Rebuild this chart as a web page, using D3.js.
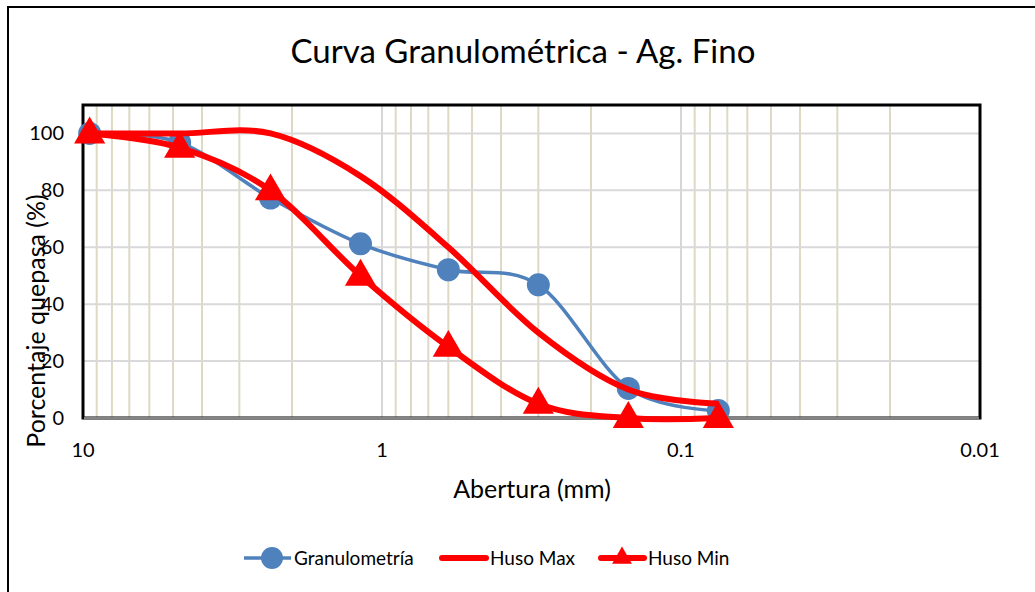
<!DOCTYPE html>
<html>
<head>
	<meta charset="utf-8">
	<script src="https://d3js.org/d3.v7.min.js"></script>
	<style>
	body{ margin:0; background:#fff; font-family: Lato, "Open Sans", sans-serif; }
	</style>
</head>
<body>
<svg id="chart" width="1035" height="592"></svg>
<script>
// sieve openings (mm) and passing percentages
var aberturas = [9.5, 4.75, 2.36, 1.18, 0.6, 0.3, 0.15, 0.075];
var granulometria = [100, 96.8, 77.3, 61.2, 52.1, 46.8, 10.4, 2.6];
var husoMax = [100, 100, 100, 85, 60, 30, 10, 5];
var husoMin = [100, 95, 80, 50, 25, 5, 0, 0];
var xTicks = [10, 1, 0.1, 0.01];
var yTicks = [0, 20, 40, 60, 80, 100];

(function(){
	var svg = d3.select("#chart");
	var pLeft = 83, pRight = 980, pTop = 105, pBottom = 418;

	var x = d3.scaleLog().domain([10, 0.01]).range([pLeft, pRight]);
	var y = d3.scaleLinear().domain([0, 110]).range([pBottom, pTop]);

	// outer chart border
	svg.append("rect")
		.attr("x", 8).attr("y", 7).attr("width", 1040).attr("height", 600)
		.attr("fill", "none").attr("stroke", "#000").attr("stroke-width", 2);

	// title
	svg.append("text")
		.attr("x", 523).attr("y", 63)
		.attr("text-anchor", "middle")
		.attr("font-size", "33px")
		.attr("fill", "#000")
		.text("Curva Granulométrica - Ag. Fino");

	// minor vertical grid lines (log)
	var minor = [];
	[1, 0.1, 0.01].forEach(function(d){
		for (var k = 2; k <= 9; k++) minor.push(d * k);
	});
	svg.append("g").selectAll("line").data(minor).enter().append("line")
		.attr("x1", function(d){ return x(d); }).attr("x2", function(d){ return x(d); })
		.attr("y1", pTop).attr("y2", pBottom)
		.attr("stroke", "#ddd9c4").attr("stroke-width", 2);

	// major vertical grid lines
	svg.append("g").selectAll("line").data([1, 0.1]).enter().append("line")
		.attr("x1", function(d){ return x(d); }).attr("x2", function(d){ return x(d); })
		.attr("y1", pTop).attr("y2", pBottom)
		.attr("stroke", "#c8c8c8").attr("stroke-width", 1.5);

	// horizontal grid lines
	svg.append("g").selectAll("line").data(yTicks.slice(1)).enter().append("line")
		.attr("x1", pLeft).attr("x2", pRight)
		.attr("y1", function(d){ return y(d); }).attr("y2", function(d){ return y(d); })
		.attr("stroke", "#d9d9d9").attr("stroke-width", 2);

	// plot border
	svg.append("rect")
		.attr("x", pLeft).attr("y", pTop).attr("width", pRight - pLeft).attr("height", pBottom - pTop)
		.attr("fill", "none").attr("stroke", "#000").attr("stroke-width", 3);
	svg.append("line")
		.attr("x1", pLeft + 1).attr("x2", pRight - 1).attr("y1", pBottom).attr("y2", pBottom)
		.attr("stroke", "#b0b0b0").attr("stroke-width", 1.5);

	// tick labels
	svg.append("g").selectAll("text").data(yTicks).enter().append("text")
		.attr("x", 64).attr("y", function(d){ return y(d) + 7; })
		.attr("text-anchor", "end").attr("font-size", "20px").attr("fill", "#000")
		.text(function(d){ return d; });
	svg.append("g").selectAll("text").data(xTicks).enter().append("text")
		.attr("x", function(d){ return x(d); }).attr("y", 457)
		.attr("text-anchor", "middle").attr("font-size", "20px").attr("fill", "#000")
		.text(function(d){ return d; });

	// axis titles
	svg.append("text")
		.attr("x", 532).attr("y", 498)
		.attr("text-anchor", "middle").attr("font-size", "25px").attr("fill", "#000")
		.text("Abertura (mm)");
	svg.append("text")
		.attr("transform", "translate(45,321) rotate(-90)")
		.attr("text-anchor", "middle").attr("font-size", "25px").attr("fill", "#000")
		.text("Porcentaje quepasa (%)");

	// series
	var line = d3.line()
		.x(function(d){ return x(d[0]); })
		.y(function(d){ return y(d[1]); })
		.curve(d3.curveCardinal.tension(0));

	function pairs(vals){
		return aberturas.map(function(a, i){ return [a, vals[i]]; });
	}

	var tri = d3.symbol().type(d3.symbolTriangle).size(420);

	// Granulometría
	svg.append("path").datum(pairs(granulometria))
		.attr("d", line).attr("fill", "none")
		.attr("stroke", "#4f81bd").attr("stroke-width", 3.5);
	svg.append("g").selectAll("circle").data(pairs(granulometria)).enter().append("circle")
		.attr("cx", function(d){ return x(d[0]); })
		.attr("cy", function(d){ return y(d[1]); })
		.attr("r", 11.5).attr("fill", "#4f81bd");

	// Huso Max
	svg.append("path").datum(pairs(husoMax))
		.attr("d", line).attr("fill", "none")
		.attr("stroke", "#ff0000").attr("stroke-width", 6);

	// Huso Min
	svg.append("path").datum(pairs(husoMin))
		.attr("d", line).attr("fill", "none")
		.attr("stroke", "#ff0000").attr("stroke-width", 6);
	svg.append("g").selectAll("path").data(pairs(husoMin)).enter().append("path")
		.attr("d", tri)
		.attr("transform", function(d){ return "translate(" + x(d[0]) + "," + (y(d[1]) + 1) + ")"; })
		.attr("fill", "#ff0000");

	// legend
	var lg = svg.append("g").attr("font-size", "19px").attr("fill", "#000");
	lg.append("line").attr("x1", 244).attr("x2", 291).attr("y1", 558).attr("y2", 558)
		.attr("stroke", "#4f81bd").attr("stroke-width", 3.5);
	lg.append("circle").attr("cx", 272).attr("cy", 558).attr("r", 11).attr("fill", "#4f81bd");
	lg.append("text").attr("x", 294).attr("y", 565).text("Granulometría");

	lg.append("line").attr("x1", 442).attr("x2", 486).attr("y1", 558).attr("y2", 558)
		.attr("stroke", "#ff0000").attr("stroke-width", 6).attr("stroke-linecap", "round");
	lg.append("text").attr("x", 490).attr("y", 565).text("Huso Max");

	lg.append("line").attr("x1", 601).attr("x2", 644).attr("y1", 558).attr("y2", 558)
		.attr("stroke", "#ff0000").attr("stroke-width", 6).attr("stroke-linecap", "round");
	lg.append("path").attr("d", d3.symbol().type(d3.symbolTriangle).size(170))
		.attr("transform", "translate(622,558)").attr("fill", "#ff0000");
	lg.append("text").attr("x", 648).attr("y", 565).text("Huso Min");
})();
</script>
</body>
</html>
